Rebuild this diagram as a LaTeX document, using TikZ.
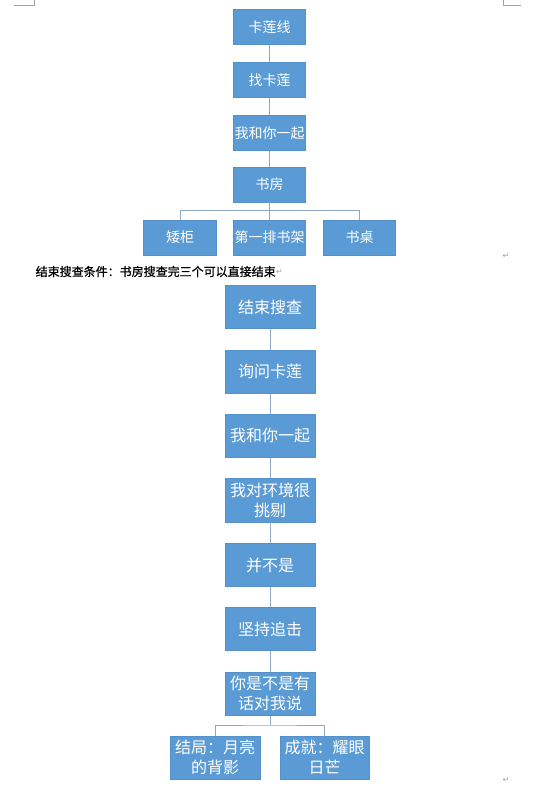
\documentclass[tikz,border=0pt]{standalone}
\usepackage{fontspec}
\setmainfont{Noto Sans CJK SC}
\newfontfamily\boldish[FakeBold=0.8]{Noto Sans CJK SC}
\newfontfamily\symfont{DejaVu Sans}
\definecolor{boxblue}{HTML}{5B9BD5}
\definecolor{boxedge}{HTML}{5590C8}
\definecolor{linkc}{HTML}{8FA6C2}
\definecolor{markc}{HTML}{A0A0A0}
\begin{document}
\begin{tikzpicture}[x=1pt,y=-1pt,
  topbox/.style={fill=boxblue,draw=boxedge,line width=0.6pt,text=white,inner sep=0pt,
     minimum width=72.4pt,minimum height=35pt,font=\fontsize{14}{16}\selectfont,align=center},
  lowbox/.style={fill=boxblue,draw=boxedge,line width=0.6pt,text=white,inner sep=0pt,
     minimum width=89.7pt,minimum height=43.5pt,font=\fontsize{16}{20}\selectfont,align=center},
  link/.style={draw=linkc,line width=1pt},
  pmark/.style={text=markc,inner sep=0pt,font=\symfont\fontsize{8}{8}\selectfont}]
\useasboundingbox (0,0) rectangle (541,788);
% page corner marks
\draw[markc,line width=0.6pt] (14,5) -- (34,5) -- (34,0);
\draw[markc,line width=0.6pt] (503,0) -- (503,5) -- (521,5);
% top chain
\node[topbox] (a1) at (269.5,26.8) {卡莲线};
\node[topbox] (a2) at (269.5,79.8) {找卡莲};
\node[topbox] (a3) at (269.5,133) {我和你一起};
\node[topbox] (a4) at (269.5,184.5) {书房};
\node[topbox,minimum width=73.4pt] (c1) at (180,237.5) {矮柜};
\node[topbox] (c2) at (269.5,237.5) {第一排书架};
\node[topbox] (c3) at (359.5,237.5) {书桌};
\draw[link] (a1.south) -- (a2.north);
\draw[link] (a2.south) -- (a3.north);
\draw[link] (a3.south) -- (a4.north);
\coordinate (j1) at (269.5,210.7);
\draw[link] (a4.south) -- (j1);
\draw[link] (c1.north) |- (j1) -| (c3.north);
\draw[link] (j1) -- (c2.north);
% text line
\node[anchor=west,inner sep=0pt,font=\boldish\fontsize{12}{14}\selectfont] (t1) at (35.5,271.5) {结束搜查条件：书房搜查完三个可以直接结束};
\node[pmark,anchor=west] (p1) at (t1.east) {↵};
\node[pmark] (p2) at (506,256) {↵};
% lower chain
\node[lowbox] (b1) at (270,307) {结束搜查};
\node[lowbox] (b2) at (270,371.7) {询问卡莲};
\node[lowbox] (b3) at (270,435.8) {我和你一起};
\node[lowbox] (b4) at (270,500.3) {我对环境很\\挑剔};
\node[lowbox] (b5) at (270,565) {并不是};
\node[lowbox] (b6) at (270,629) {坚持追击};
\node[lowbox] (b7) at (270,693.7) {你是不是有\\话对我说};
\node[lowbox,minimum width=90pt] (d1) at (215,757.7) {结局：月亮\\的背影};
\node[lowbox,minimum width=89pt] (d2) at (324.5,757.7) {成就：耀眼\\日芒};
\draw[link] (b1.south) -- (b2.north);
\draw[link] (b2.south) -- (b3.north);
\draw[link] (b3.south) -- (b4.north);
\draw[link] (b4.south) -- (b5.north);
\draw[link] (b5.south) -- (b6.north);
\draw[link] (b6.south) -- (b7.north);
\coordinate (j2) at (270,725);
\draw[link] (b7.south) -- (j2);
\draw[link] (d1.north) |- (j2) -| (d2.north);
\node[pmark] (p3) at (506,780) {↵};
\end{tikzpicture}
\end{document}
